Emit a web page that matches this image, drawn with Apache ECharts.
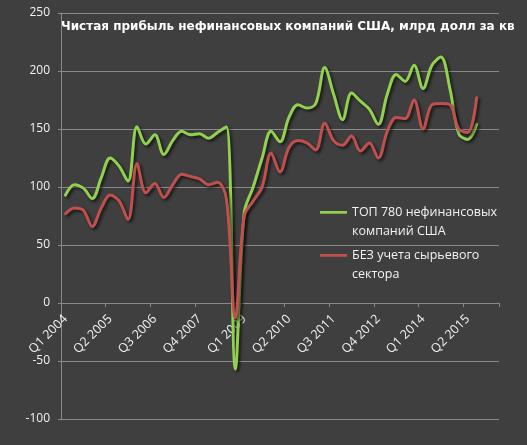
<!DOCTYPE html>
<html><head><meta charset="utf-8">
<script src="https://cdn.jsdelivr.net/npm/echarts@6/dist/echarts.min.js"></script>
<style>html,body{margin:0;padding:0;background:#3f3f3f;}#c{width:527px;height:445px;}</style>
</head><body><div id="c"></div>
<script>
const titleText = 'Чистая прибыль нефинансовых компаний США, млрд долл за кв';
const seriesNames = ['ТОП 780 нефинансовых компаний США', 'БЕЗ учета сырьевого сектора'];
const legendLines = {
  'ТОП 780 нефинансовых компаний США': 'ТОП 780 нефинансовых\nкомпаний США',
  'БЕЗ учета сырьевого сектора': 'БЕЗ учета сырьевого\nсектора'
};
const categories = [
  'Q1 2004','Q2 2004','Q3 2004','Q4 2004',
  'Q1 2005','Q2 2005','Q3 2005','Q4 2005',
  'Q1 2006','Q2 2006','Q3 2006','Q4 2006',
  'Q1 2007','Q2 2007','Q3 2007','Q4 2007',
  'Q1 2008','Q2 2008','Q3 2008','Q4 2008',
  'Q1 2009','Q2 2009','Q3 2009','Q4 2009',
  'Q1 2010','Q2 2010','Q3 2010','Q4 2010',
  'Q1 2011','Q2 2011','Q3 2011','Q4 2011',
  'Q1 2012','Q2 2012','Q3 2012','Q4 2012',
  'Q1 2013','Q2 2013','Q3 2013','Q4 2013',
  'Q1 2014','Q2 2014','Q3 2014','Q4 2014',
  'Q1 2015','Q2 2015','Q3 2015','Q4 2015',
  'Q1 2016'
];
const top780 = [
  93, 102, 99, 90, 108, 125, 118, 105,
  152, 137, 145, 128, 140, 148, 145, 146,
  142, 147, 152, -57, 78, 100, 125, 148,
  139, 160, 171, 168, 172, 203, 180, 158,
  181, 174, 167, 154, 180, 197, 191, 205,
  185, 205, 212, 185, 146, 141, 154
];
const exCommodity = [
  77, 82, 80, 66, 82, 93, 88, 72,
  120, 95, 103, 91, 102, 111, 109, 107,
  102, 104, 90, -13, 75, 88, 100, 129,
  113, 134, 140, 138, 132, 155, 140, 136,
  144, 131, 138, 125, 148, 160, 159, 175,
  150, 171, 172, 171, 150, 147, 177
];
const yMin = -100, yMax = 250, yStep = 50;

const W = 527, H = 445;
const gridTop = 13, gridBottom = 26;
const plotH = H - gridTop - gridBottom;
const zeroOffset = plotH * (0 - yMin) / (yMax - yMin); // distance from bottom edge to zero line

const chart = echarts.init(document.getElementById('c'), null, {renderer: 'canvas'});
const shadow = {shadowColor: 'rgba(0,0,0,0.65)', shadowBlur: 3, shadowOffsetX: 2, shadowOffsetY: 2};
// legend icon: a short line at the height of the first text line of a two-line label
const legendIcon = 'path://M0,0L0.01,0M0,8L28,8L28,11L0,11ZM0,38L0.01,38';
const legendText = {color: '#f2f2f2', fontSize: 12.5, fontFamily: 'Open Sans', lineHeight: 19};
const legendBase = {
  padding: 0, orient: 'vertical', icon: legendIcon, itemWidth: 27, itemHeight: 38, itemGap: 0,
  itemStyle: {borderWidth: 0, shadowBlur: 0, shadowOffsetX: 0, shadowOffsetY: 0},
  lineStyle: {width: 0, shadowBlur: 0},
  formatter: n => legendLines[n], textStyle: legendText
};
chart.setOption({
  backgroundColor: '#3f3f3f',
  animation: false,
  title: {
    text: titleText, left: 61, top: 21, padding: 0,
    textStyle: {color: '#ffffff', fontSize: 12, fontWeight: 'bold', fontFamily: 'DejaVu Sans'}
  },
  legend: [
    Object.assign({data: [seriesNames[0]], left: 320, top: 202.5}, legendBase),
    Object.assign({data: [seriesNames[1]], left: 320, top: 245.5}, legendBase)
  ],
  grid: {left: 61, right: 28, top: gridTop, bottom: gridBottom, containLabel: false, outerBoundsMode: 'none'},
  xAxis: {
    type: 'category', data: categories, boundaryGap: true,
    offset: -zeroOffset,
    axisLine: {onZero: false, lineStyle: {color: '#8a8a8a', width: 1}},
    axisTick: {show: true, interval: 4, length: 4, lineStyle: {color: '#8a8a8a'}},
    axisLabel: {interval: 4, rotate: 45, margin: 14, color: '#f2f2f2', fontSize: 12.5, fontFamily: 'Open Sans'},
    splitLine: {show: false}
  },
  yAxis: {
    type: 'value', min: yMin, max: yMax, interval: yStep,
    axisLine: {show: true, lineStyle: {color: '#8a8a8a'}},
    axisTick: {show: true, length: 3, lineStyle: {color: '#8a8a8a'}},
    axisLabel: {margin: 11, color: '#f2f2f2', fontSize: 12, fontFamily: 'Open Sans'},
    splitLine: {show: true, lineStyle: {color: '#8a8a8a', width: 1}}
  },
  series: [
    {name: seriesNames[0], type: 'line', data: top780, smooth: 0.35, showSymbol: false, symbol: 'none',
     color: '#92d050', lineStyle: Object.assign({width: 3, color: '#92d050', cap: 'round', join: 'round'}, shadow), z: 2},
    {name: seriesNames[1], type: 'line', data: exCommodity, smooth: 0.35, showSymbol: false, symbol: 'none',
     color: '#c0504d', lineStyle: Object.assign({width: 3, color: '#c0504d', cap: 'round', join: 'round'}, shadow), z: 3}
  ]
});
</script></body></html>
